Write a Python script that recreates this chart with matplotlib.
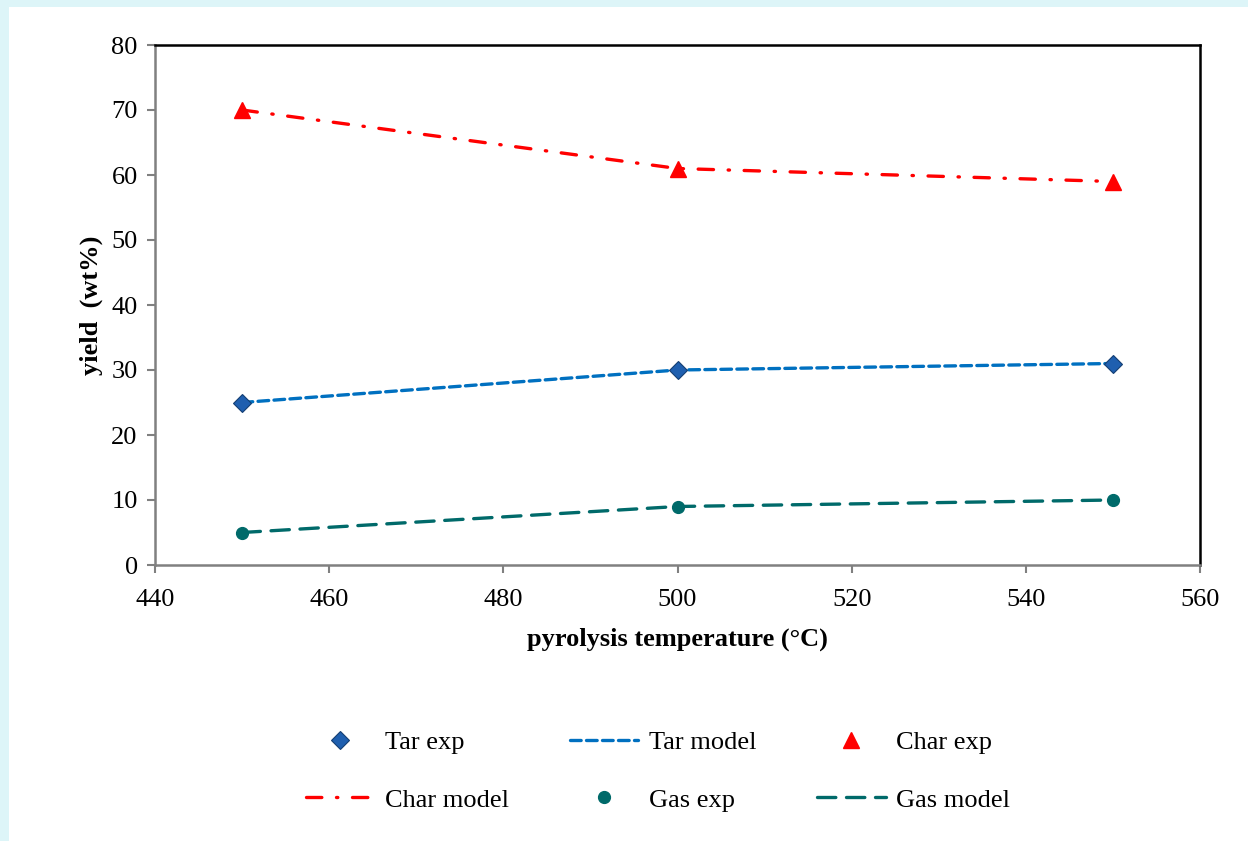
import matplotlib
matplotlib.use("Agg")
import matplotlib.pyplot as plt
from matplotlib.patches import Rectangle

temperature = [450, 500, 550]
tar_exp = [25, 30, 31]
tar_model = [25, 30, 31]
char_exp = [70, 61, 59]
char_model = [70, 61, 59]
gas_exp = [5, 9, 10]
gas_model = [5, 9, 10]

x_ticks = [440, 460, 480, 500, 520, 540, 560]
y_ticks = [0, 10, 20, 30, 40, 50, 60, 70, 80]

plt.rcParams['font.family'] = ['Liberation Serif', 'DejaVu Serif']

W, H = 1248, 841
fig = plt.figure(figsize=(W / 100, H / 100), dpi=100, facecolor='white')

# light cyan frame strips (top and left)
fig.patches.append(Rectangle((0, 1 - 7 / H), 1, 7 / H, transform=fig.transFigure,
                             facecolor='#DDF5F8', edgecolor='none', zorder=0))
fig.patches.append(Rectangle((0, 0), 9 / W, 1, transform=fig.transFigure,
                             facecolor='#DDF5F8', edgecolor='none', zorder=0))

ax = fig.add_axes([155 / W, 1 - 565 / H, (1200 - 155) / W, (565 - 45) / H])

blue = '#0070C0'
red = '#FF0000'
teal = '#006A6A'

l_tm, = ax.plot(temperature, tar_model, color=blue, lw=2.4, dashes=(3.2, 1.6),
                dash_capstyle='round', label='Tar model', zorder=2)
l_cm, = ax.plot(temperature, char_model, color=red, lw=2.4, dashes=(4.6, 4.4, 0.4, 4.4),
                dash_capstyle='round', label='Char model', zorder=2)
l_gm, = ax.plot(temperature, gas_model, color=teal, lw=2.4, dashes=(5.5, 3.2),
                dash_capstyle='round', label='Gas model', zorder=2)

l_te, = ax.plot(temperature, tar_exp, ls='none', marker='D', markersize=9,
                markerfacecolor='#1F5FAF', markeredgecolor='#143F73', markeredgewidth=0.8,
                label='Tar exp', zorder=3)
l_ce, = ax.plot(temperature, char_exp, ls='none', marker='^', markersize=12,
                markerfacecolor=red, markeredgecolor=red, label='Char exp', zorder=3)
l_ge, = ax.plot(temperature, gas_exp, ls='none', marker='o', markersize=8.5,
                markerfacecolor=teal, markeredgecolor=teal, label='Gas exp', zorder=3)

ax.set_xlim(440, 560)
ax.set_ylim(0, 80)
ax.set_xticks(x_ticks)
ax.set_yticks(y_ticks)
ax.tick_params(axis='both', which='major', direction='out', length=5.5, width=1.5,
               color='#808080', labelsize=19, pad=7)
ax.tick_params(axis='x', pad=12)

for s in ['left', 'bottom']:
    ax.spines[s].set_color('#808080')
    ax.spines[s].set_linewidth(1.8)
for s in ['top', 'right']:
    ax.spines[s].set_color('black')
    ax.spines[s].set_linewidth(1.8)

ax.set_xlabel('pyrolysis temperature (°C)', fontsize=19, fontweight='bold', labelpad=12)
ax.set_ylabel('yield  (wt%)', fontsize=19, fontweight='bold', labelpad=6)

handles = [l_te, l_cm, l_tm, l_ge, l_ce, l_gm]
labels = [h.get_label() for h in handles]
fig.legend(handles, labels, ncol=3, loc='center', bbox_to_anchor=(658 / W, 1 - 771 / H),
           frameon=False, fontsize=19, handlelength=2.6, handletextpad=0.4,
           columnspacing=2.3, labelspacing=1.3)

fig.savefig('out.png', dpi=100, facecolor='white')
